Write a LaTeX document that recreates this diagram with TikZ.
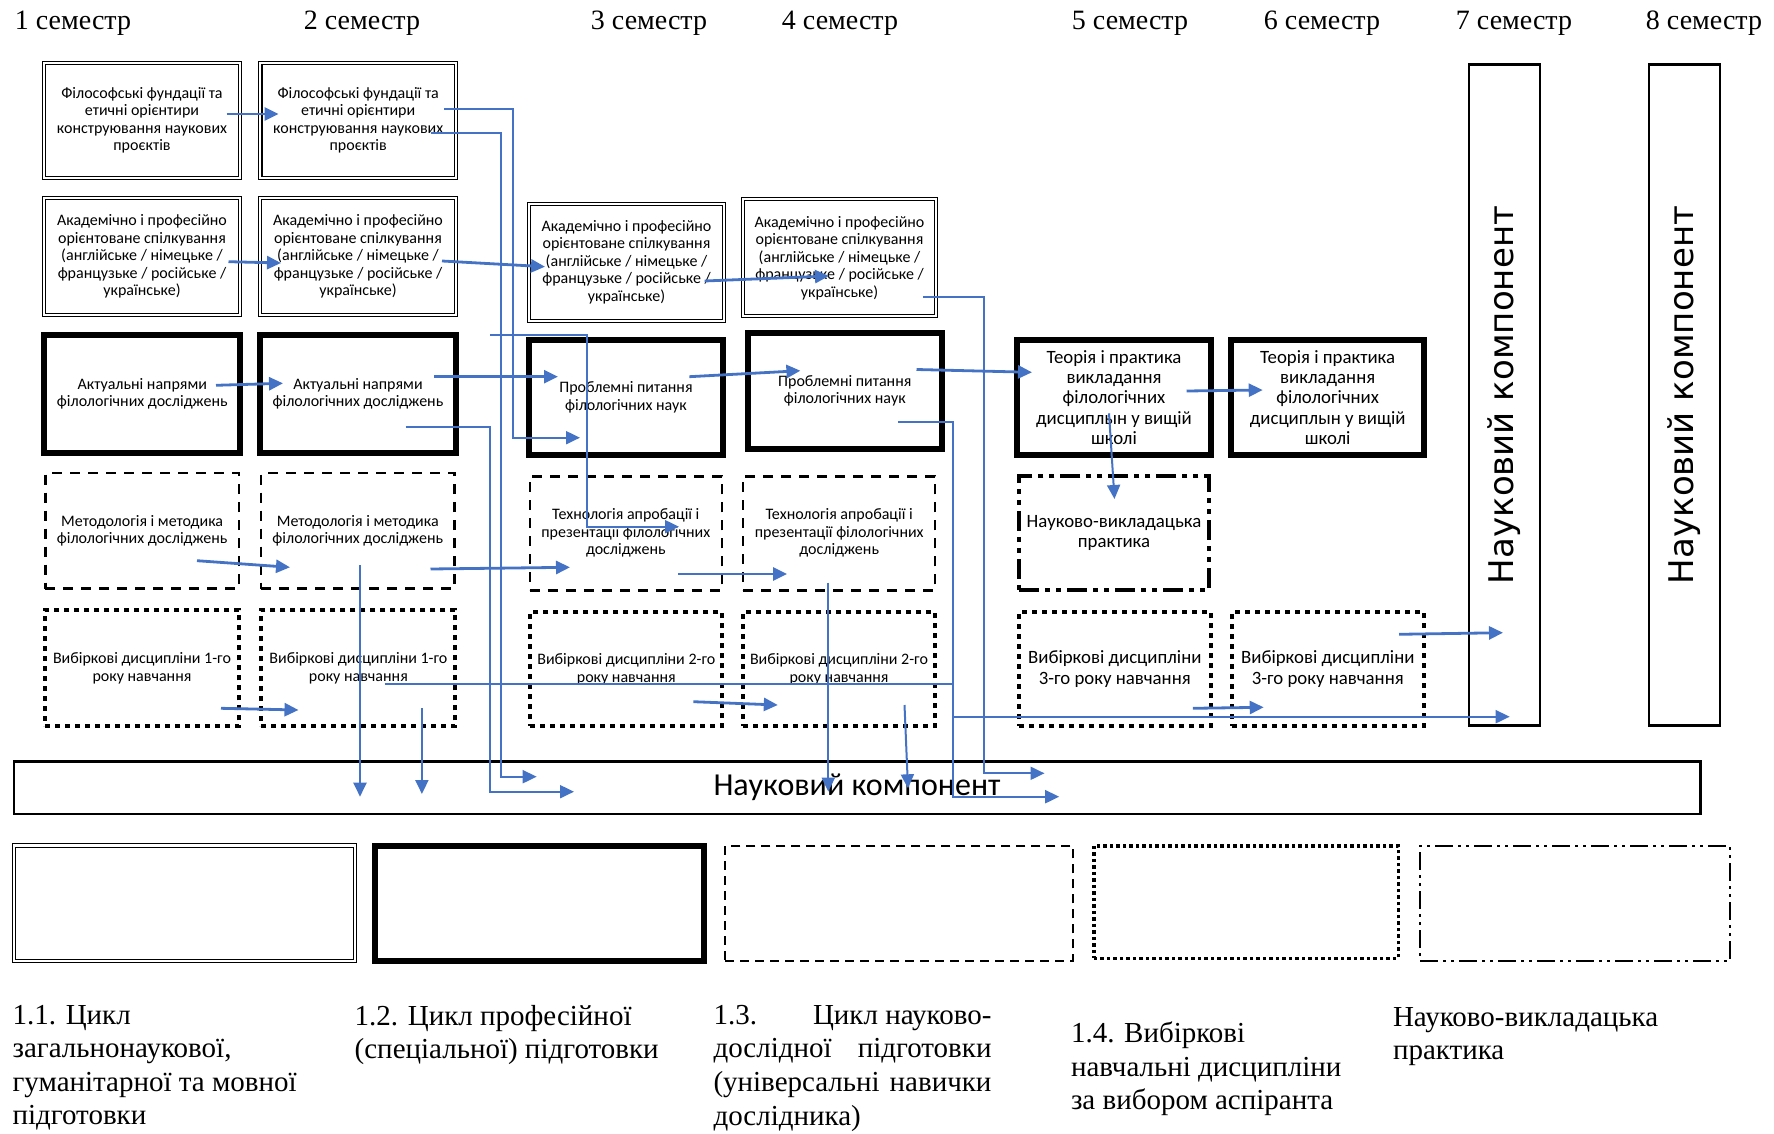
\documentclass[tikz,border=0pt]{standalone}
\usepackage{fontspec}
\setmainfont{Carlito}
\newfontfamily\timesfont{Liberation Serif}
\newfontfamily\dejavufont{DejaVu Sans}
\usetikzlibrary{arrows.meta}
\definecolor{linkblue}{HTML}{4472C4}

\begin{document}
\begin{tikzpicture}[x=1pt,y=-1pt,
    every node/.style={inner sep=0pt,outer sep=0pt},
    sem/.style={font=\timesfont\fontsize{28}{33}\selectfont},
    txt/.style={align=center,font=\fontsize{16}{17.5}\selectfont},
    bigtxt/.style={align=center,font=\fontsize{18.8}{20.4}\selectfont},
    dblbox/.style={txt,draw,double,double distance=2pt,line width=1.1pt,minimum width=195.6pt},
    thickbox/.style={txt,draw,line width=6pt,minimum width=194pt,minimum height=115.6pt},
    dashbox/.style={txt,draw,line width=2.5pt,dash pattern=on 10pt off 8pt,minimum width=192pt},
    dotbox/.style={txt,draw,line width=4pt,dash pattern=on 5pt off 5pt,minimum width=192pt},
    dashdotbox/.style={bigtxt,draw,line width=4pt,dash pattern=on 20pt off 6pt on 5pt off 6pt on 5pt off 6pt},
    barbox/.style={draw,line width=2.5pt},
    arr/.style={draw=linkblue,line width=2.8pt,-{Triangle[length=14pt,width=13pt]}},
    lnk/.style={draw=linkblue,line width=2pt},
    lnkarr/.style={lnk,-{Triangle[length=14pt,width=13pt]}},
    legend/.style={align=left,anchor=north west,font=\timesfont\fontsize{29}{33.6}\selectfont}
  ]
  \useasboundingbox (0,0) rectangle (1774,1134);

  % semesters
  \node[sem] (s1) at (73,23) {1 семестр};
  \node[sem] (s2) at (362,23) {2 семестр};
  \node[sem] (s3) at (649,23) {3 семестр};
  \node[sem] (s4) at (840,23) {4 семестр};
  \node[sem] (s5) at (1130,23) {5 семестр};
  \node[sem] (s6) at (1322,23) {6 семестр};
  \node[sem] (s7) at (1514,23) {7 семестр};
  \node[sem] (s8) at (1704,23) {8 семестр};

  % row 1 and 2
  \node[dblbox,minimum height=115pt] (fil1) at (142,120.5) {Філософські фундації та\\етичні орієнтири\\конструювання наукових\\проєктів};
  \node[dblbox,minimum height=115pt] (fil2) at (358.2,120.5) {Філософські фундації та\\етичні орієнтири\\конструювання наукових\\проєктів};
  \node[dblbox,minimum height=117pt] (ak1) at (142,256.5) {Академічно і професійно\\орієнтоване спілкування\\(англійське / німецьке /\\французьке / російське /\\українське)};
  \node[dblbox,minimum height=117pt] (ak2) at (358,256.5) {Академічно і професійно\\орієнтоване спілкування\\(англійське / німецьке /\\французьке / російське /\\українське)};
  \node[dblbox,minimum height=117pt,minimum width=194.6pt] (ak3) at (626.5,262.2) {Академічно і професійно\\орієнтоване спілкування\\(англійське / німецьке /\\французьке / російське /\\українське)};
  \node[dblbox,minimum height=117pt,minimum width=192.6pt] (ak4) at (839.5,257.8) {Академічно і професійно\\орієнтоване спілкування\\(англійське / німецьке /\\французьке / російське /\\українське)};

  % row 3
  \node[thickbox,minimum width=196pt,minimum height=118pt] (act1) at (142.3,393.7) {Актуальні напрями\\філологічних досліджень};
  \node[thickbox,minimum width=196pt,minimum height=118pt] (act2) at (358,393.7) {Актуальні напрями\\філологічних досліджень};
  \node[thickbox] (prob3) at (626,397.5) {Проблемні питання\\філологічних наук};
  \node[thickbox] (prob4) at (844.8,391) {Проблемні питання\\філологічних наук};
  \node[thickbox,bigtxt] (teor5) at (1114,397.5) {Теорія і практика\\викладання\\філологічних\\дисциплын у вищій\\школі};
  \node[thickbox,bigtxt,minimum width=192.5pt] (teor6) at (1327.7,397.5) {Теорія і практика\\викладання\\філологічних\\дисциплын у вищій\\школі};

  % row 4
  \node[dashbox,minimum width=193.5pt,minimum height=115.5pt] (met1) at (142.2,530.8) {Методологія і методика\\філологічних досліджень};
  \node[dashbox,minimum width=193.5pt,minimum height=115.5pt] (met2) at (357.8,530.8) {Методологія і методика\\філологічних досліджень};
  \node[dashbox,minimum height=114pt] (tech3) at (625.8,533.3) {Технологія апробації і\\презентації філологічних\\досліджень};
  \node[dashbox,minimum height=114pt] (tech4) at (839.2,533.3) {Технологія апробації і\\презентації філологічних\\досліджень};
  \node[dashdotbox,minimum width=190pt,minimum height=113.4pt] (prakt5) at (1114,533) {Науково-викладацька\\практика};

  % row 5
  \node[dotbox,minimum width=194pt,minimum height=116pt] (vyb1) at (142,668.3) {Вибіркові дисципліни 1-го\\року навчання};
  \node[dotbox,minimum width=194pt,minimum height=116pt] (vyb2) at (358.4,668.3) {Вибіркові дисципліни 1-го\\року навчання};
  \node[dotbox,minimum height=114pt] (vyb3) at (626.3,669.2) {Вибіркові дисципліни 2-го\\року навчання};
  \node[dotbox,minimum height=114pt] (vyb4) at (839,669.2) {Вибіркові дисципліни 2-го\\року навчання};
  \node[dotbox,bigtxt,minimum height=114pt] (vyb5) at (1114.8,669.2) {Вибіркові дисципліни\\3-го року навчання};
  \node[dotbox,bigtxt,minimum height=114pt] (vyb6) at (1327.8,669.2) {Вибіркові дисципліни\\3-го року навчання};

  % research component
  \node[barbox,rotate=90,minimum width=661pt,minimum height=71pt,font=\dejavufont\fontsize{34}{40}\selectfont] (bar7) at (1504.3,395) {Науковий компонент};
  \node[barbox,rotate=90,minimum width=661pt,minimum height=71pt,font=\dejavufont\fontsize{34}{40}\selectfont] (bar8) at (1684.4,395) {Науковий компонент};
  \node[barbox,minimum width=1686.5pt,minimum height=52.5pt,font=\fontsize{32}{36}\selectfont] (nkbar) at (857,787.5) {Науковий компонент};

  % legend
  \node[draw,double,double distance=2.5pt,line width=1pt,minimum width=341pt,minimum height=115.5pt] (lg1) at (184.3,903.3) {};
  \node[draw,line width=6pt,minimum width=329pt,minimum height=115.3pt] (lg2) at (539.5,903.4) {};
  \node[draw,line width=2pt,dash pattern=on 9pt off 6pt,minimum width=347.6pt,minimum height=114.7pt] (lg3) at (899.2,903.4) {};
  \node[draw,line width=3.5pt,dash pattern=on 3.5pt off 3pt,minimum width=304.5pt,minimum height=112.5pt] (lg4) at (1246,902) {};
  \node[draw,line width=2pt,dash pattern=on 18pt off 5pt on 3pt off 5pt on 3pt off 5pt,minimum width=310pt,minimum height=114.7pt] (lg5) at (1575,903.4) {};
  \node[legend] (lt1) at (12.6,1005) {1.1. Цикл\\загальнонаукової,\\гуманітарної та мовної\\підготовки};
  \node[legend] (lt2) at (354.7,1005) {1.2. Цикл професійної\\(спеціальної) підготовки};
  \node[legend] (lt3) at (713.5,1005) {\hbox to 278pt{1.3.\hfill Цикл науково-}\\\hbox to 278pt{дослідної\hfill підготовки}\\\hbox to 278pt{(універсальні\hfill навички}\\дослідника)};
  \node[legend] (lt4) at (1071,1022) {1.4. Вибіркові\\навчальні дисципліни\\за вибором аспіранта};
  \node[legend] (lt5) at (1393,1007) {Науково-викладацька\\практика};

  % arrows between semesters
  \coordinate (fil1o) at (226.5,114);
  \coordinate (fil2i) at (278.6,114);
  \draw[arr] (fil1o) -- (fil2i);
  \coordinate (ak1o) at (228.5,261.7);
  \coordinate (ak2i) at (281,263);
  \draw[arr] (ak1o) -- (ak2i);
  \coordinate (ak2o) at (442,261);
  \coordinate (ak3i) at (545,266.7);
  \draw[arr] (ak2o) -- (ak3i);
  \coordinate (ak3o) at (704.7,281);
  \coordinate (ak4i) at (829,276);
  \draw[arr] (ak3o) -- (ak4i);
  \coordinate (act1o) at (216,385.3);
  \coordinate (act2i) at (283,383.3);
  \draw[arr] (act1o) -- (act2i);
  \coordinate (act2o) at (434,376.7);
  \coordinate (prob3i) at (558,376.7);
  \draw[arr] (act2o) -- (prob3i);
  \coordinate (prob3o) at (689.4,376.7);
  \coordinate (prob4i) at (800.4,370.7);
  \draw[arr] (prob3o) -- (prob4i);
  \coordinate (prob4o) at (916.5,369.5);
  \coordinate (teor5i) at (1032,372.3);
  \draw[arr] (prob4o) -- (teor5i);
  \coordinate (teor5o) at (1186.5,391);
  \coordinate (teor6i) at (1262.7,390);
  \draw[arr] (teor5o) -- (teor6i);
  \coordinate (teor5d) at (1109,413.3);
  \coordinate (prakt5i) at (1114.5,499);
  \draw[lnkarr] (teor5d) -- (prakt5i);
  \coordinate (met1o) at (197,560.7);
  \coordinate (met2i) at (290,567.3);
  \draw[arr] (met1o) -- (met2i);
  \coordinate (met2o) at (430.5,569);
  \coordinate (tech3i) at (570,567.3);
  \draw[arr] (met2o) -- (tech3i);
  \coordinate (tech3o) at (678,574);
  \coordinate (tech4i) at (787,574);
  \draw[arr] (tech3o) -- (tech4i);
  \coordinate (vyb1o) at (221,708.3);
  \coordinate (vyb2i) at (298.5,710);
  \draw[arr] (vyb1o) -- (vyb2i);
  \coordinate (vyb3o) at (693.4,701.7);
  \coordinate (vyb4i) at (777.8,705);
  \draw[arr] (vyb3o) -- (vyb4i);
  \coordinate (vyb5o) at (1192.8,708.3);
  \coordinate (vyb6i) at (1263.7,707.3);
  \draw[arr] (vyb5o) -- (vyb6i);
  \coordinate (vyb6o) at (1399,634.3);
  \coordinate (bar7i) at (1503,632.7);
  \draw[arr] (vyb6o) -- (bar7i);

  % long links
  \coordinate (fil2a) at (444,109);
  \coordinate (prob3j) at (580,437.7);
  \draw[lnkarr] (fil2a) -- ++(69,0) |- (prob3j);
  \coordinate (fil2b) at (430.5,133.3);
  \coordinate (nk1) at (536.7,776.7);
  \draw[lnkarr] (fil2b) -- ++(70.5,0) |- (nk1);
  \coordinate (act2t) at (490,335);
  \coordinate (tech3j) at (679,526.7);
  \draw[lnkarr] (act2t) -- ++(96.7,0) |- (tech3j);
  \coordinate (act2b) at (405.7,426.7);
  \coordinate (nk2) at (574,791.7);
  \draw[lnkarr] (act2b) -- ++(84.3,0) |- (nk2);
  \coordinate (ak4b) at (923.3,296.7);
  \coordinate (nk5) at (1044.5,773.3);
  \draw[lnkarr] (ak4b) -- ++(60.7,0) |- (nk5);
  \coordinate (prob4b) at (898.3,421.7);
  \coordinate (nk6) at (1059.2,796.7);
  \draw[lnkarr] (prob4b) -- ++(54.3,0) |- (nk6);
  \coordinate (vyb2b) at (384.6,684.3);
  \draw[lnk] (vyb2b) -- ++(568,0);
  \coordinate (br) at (952.6,716.7);
  \coordinate (bar7j) at (1509.7,716.7);
  \draw[lnkarr] (br) -- (bar7j);
  \coordinate (met2d) at (360,565);
  \coordinate (nk3) at (360,796.7);
  \draw[lnkarr] (met2d) -- (nk3);
  \coordinate (vyb2d) at (421.9,708.3);
  \coordinate (nk4) at (421.9,794);
  \draw[lnkarr] (vyb2d) -- (nk4);
  \coordinate (tech4d) at (828.3,582.7);
  \coordinate (nk7) at (828.3,791.7);
  \draw[lnkarr] (tech4d) -- (nk7);
  \coordinate (vyb4d) at (904.5,705);
  \coordinate (nk8) at (908,788.3);
  \draw[lnkarr] (vyb4d) -- (nk8);
\end{tikzpicture}
\end{document}
